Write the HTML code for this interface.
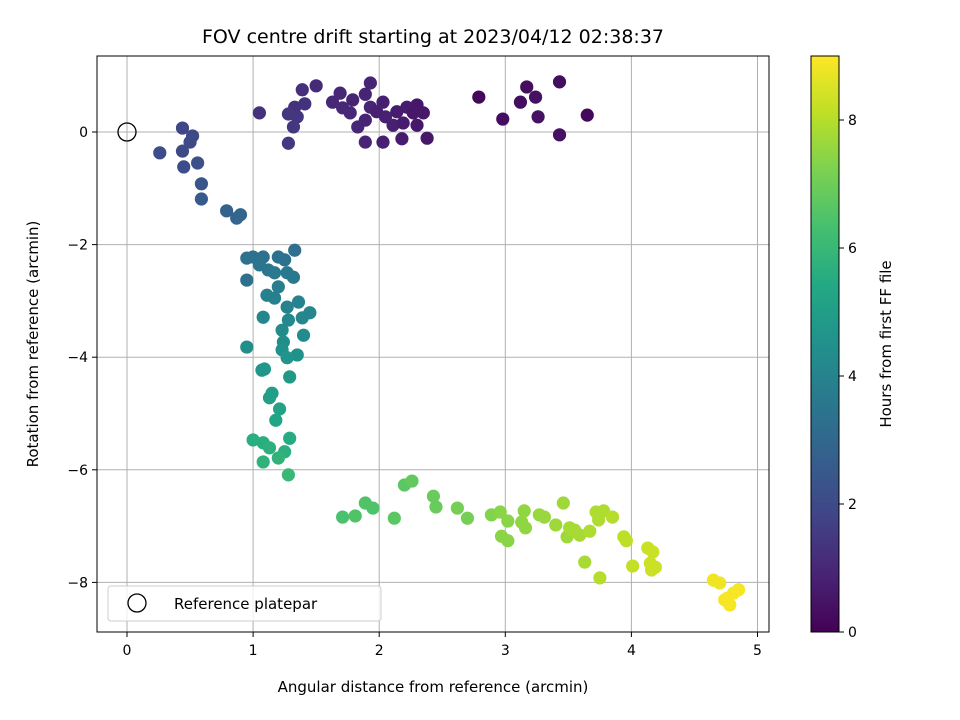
<!DOCTYPE html>
<html><head><meta charset="utf-8"><style>
body{margin:0;background:#fff;}
svg{display:block;font-family:"DejaVu Sans","Liberation Sans",sans-serif;}
</style></head><body>
<svg id="chart" width="960" height="720" viewBox="0 0 960 720" xmlns="http://www.w3.org/2000/svg">
<text x="433" y="43" font-size="19" text-anchor="middle">FOV centre drift starting at 2023/04/12 02:38:37</text>
<g id="grid"></g>
<g id="points"></g>
<rect x="97" y="56" width="672" height="576" fill="none" stroke="#000" stroke-width="1"/>
<g id="xticks"></g>
<g id="yticks"></g>
<text x="433" y="692" font-size="15" text-anchor="middle">Angular distance from reference (arcmin)</text>
<text transform="translate(38,344) rotate(-90)" font-size="15" text-anchor="middle">Rotation from reference (arcmin)</text>
<g>
<rect x="108" y="586" width="273" height="35" rx="3" fill="#fff" fill-opacity="0.8" stroke="#ccc"/>
<circle cx="137" cy="603" r="9" fill="none" stroke="#000" stroke-width="1.3"/>
<text x="174" y="609" font-size="15">Reference platepar</text>
</g>
<defs><linearGradient id="vir" x1="0" y1="1" x2="0" y2="0">
<stop offset="0" stop-color="#440154"/><stop offset="0.1" stop-color="#482475"/><stop offset="0.2" stop-color="#414487"/><stop offset="0.3" stop-color="#355f8d"/><stop offset="0.4" stop-color="#2a788e"/><stop offset="0.5" stop-color="#21918c"/><stop offset="0.6" stop-color="#22a884"/><stop offset="0.7" stop-color="#44bf70"/><stop offset="0.8" stop-color="#7ad151"/><stop offset="0.9" stop-color="#bddf26"/><stop offset="1" stop-color="#fde725"/>
</linearGradient></defs>
<rect x="811" y="56" width="28" height="576" fill="url(#vir)" stroke="#000" stroke-width="1"/>
<g id="cticks"></g>
<text transform="translate(891,344) rotate(-90)" font-size="15" text-anchor="middle">Hours from first FF file</text>
</svg>
<script>
const xs=[2.79,2.98,3.12,3.17,3.24,3.26,3.43,3.43,3.65,
1.05,1.39,1.50,1.33,1.41,1.28,1.35,1.32,1.28,1.63,1.69,1.71,1.77,1.79,1.93,1.89,1.93,1.83,1.89,1.89,2.03,2.05,2.11,2.03,2.18,2.14,2.22,2.30,2.27,2.35,2.30,2.38,1.98,2.19,
0.26,0.44,0.44,0.45,0.50,0.52,0.56,0.59,0.59,0.79,0.87,0.90,0.95,
1.33,0.95,1.00,1.08,1.20,1.25,1.05,1.12,1.17,1.27,1.32,1.20,1.11,1.17,1.36,1.27,1.45,1.39,1.08,1.28,1.23,1.40,1.24,0.95,1.23,1.35,1.27,1.07,1.09,1.29,1.15,1.13,1.21,1.18,1.00,1.29,1.08,1.13,1.25,1.20,1.08,1.28,
1.71,1.81,1.89,1.95,2.12,2.20,2.26,2.43,2.45,2.62,2.70,2.89,2.96,2.97,3.02,3.02,3.13,3.15,3.16,3.27,3.31,3.40,3.46,3.49,3.51,3.55,3.59,3.63,3.67,3.74,3.72,3.78,3.85,3.75,3.94,3.96,4.01,4.13,4.17,4.15,4.16,4.19,
4.65,4.70,4.76,4.78,4.74,4.81,4.85];
const ys=[0.62,0.23,0.53,0.80,0.62,0.27,0.89,-0.05,0.30,
0.34,0.75,0.82,0.44,0.50,0.32,0.27,0.09,-0.20,0.53,0.69,0.43,0.34,0.57,0.87,0.67,0.44,0.09,0.21,-0.18,0.53,0.27,0.12,-0.18,-0.12,0.36,0.44,0.48,0.34,0.34,0.12,-0.11,0.36,0.16,
-0.37,0.07,-0.34,-0.62,-0.18,-0.07,-0.55,-0.92,-1.19,-1.40,-1.53,-1.47,-2.63,
-2.10,-2.24,-2.22,-2.22,-2.22,-2.27,-2.36,-2.45,-2.50,-2.50,-2.58,-2.75,-2.90,-2.95,-3.02,-3.11,-3.21,-3.30,-3.29,-3.34,-3.52,-3.61,-3.73,-3.82,-3.87,-3.96,-4.01,-4.23,-4.21,-4.35,-4.64,-4.72,-4.92,-5.12,-5.47,-5.44,-5.52,-5.61,-5.68,-5.79,-5.86,-6.09,
-6.84,-6.82,-6.59,-6.68,-6.86,-6.27,-6.20,-6.47,-6.66,-6.68,-6.86,-6.80,-6.75,-7.18,-7.26,-6.91,-6.93,-6.73,-7.03,-6.80,-6.84,-6.98,-6.59,-7.19,-7.03,-7.07,-7.16,-7.64,-7.09,-6.89,-6.75,-6.73,-6.84,-7.92,-7.19,-7.26,-7.71,-7.39,-7.46,-7.66,-7.78,-7.73,
-7.96,-8.01,-8.28,-8.40,-8.31,-8.19,-8.13];
const hours=[0.2,0.3,0.3,0.3,0.4,0.4,0.3,0.4,0.2,
1.3,1.2,1.1,1.3,1.3,1.4,1.4,1.4,1.5,1.0,1.0,1.0,1.0,0.9,0.9,0.9,0.9,1.0,0.9,0.9,0.8,0.8,0.8,0.8,0.7,0.7,0.7,0.6,0.6,0.6,0.6,0.6,0.8,0.7,
2.1,1.9,2.0,2.1,2.0,2.0,2.2,2.4,2.5,2.8,2.9,2.9,3.3,
3.3,3.4,3.4,3.4,3.4,3.4,3.5,3.5,3.6,3.6,3.6,3.8,3.9,3.9,4.0,4.0,4.1,4.1,4.1,4.2,4.3,4.3,4.4,4.4,4.5,4.5,4.6,4.7,4.7,4.8,5.0,5.1,5.2,5.3,5.6,5.5,5.6,5.7,5.7,5.8,5.8,6.0,
6.4,6.5,6.5,6.5,6.7,6.7,6.8,6.9,6.9,7.1,7.1,7.3,7.4,7.4,7.4,7.4,7.5,7.5,7.5,7.6,7.6,7.7,7.7,7.7,7.8,7.8,7.8,7.8,7.9,7.9,7.9,7.9,8.0,8.0,8.1,8.1,8.2,8.3,8.3,8.3,8.3,8.3,
8.8,8.8,8.9,8.9,8.9,8.9,8.9];
const xTicks=[0,1,2,3,4,5];
const yTicks=[0,-2,-4,-6,-8];
const cTicks=[0,2,4,6,8];
const NS="http://www.w3.org/2000/svg";
const X=v=>127+v*126.1, Y=v=>132-v*56.3, C=v=>632-v*(576/9);
const vir=[[68,1,84],[72,36,117],[65,68,135],[53,95,141],[42,120,142],[33,145,140],[34,168,132],[68,191,112],[122,209,81],[189,223,38],[253,231,37]];
function col(h){let t=Math.max(0,Math.min(1,h/9))*10;if(t>=10)t=9.999;
 const i=Math.floor(t),f=t-i,a=vir[i],b=vir[i+1];
 return `rgb(${a.map((v,k)=>Math.round(v+(b[k]-v)*f)).join(',')})`;}
function mk(tag,at,parent){const e=document.createElementNS(NS,tag);for(const k in at)e.setAttribute(k,at[k]);parent.appendChild(e);return e;}
const grid=document.getElementById('grid'),xt=document.getElementById('xticks'),yt=document.getElementById('yticks'),ct=document.getElementById('cticks'),pts=document.getElementById('points');
xTicks.forEach(v=>{
 const g=mk('line',{x1:X(v),x2:X(v),y1:56,y2:632,stroke:'#b0b0b0','stroke-width':1},grid);
 
 
 mk('line',{x1:X(v),x2:X(v),y1:632,y2:637,stroke:'#000'},xt);
 const t=mk('text',{x:X(v),y:655,'font-size':14,'text-anchor':'middle'},xt);t.textContent=v;
 
 
});
yTicks.forEach(v=>{
 const g=mk('line',{x1:97,x2:769,y1:Y(v),y2:Y(v),stroke:'#b0b0b0','stroke-width':1},grid);
 
 
 mk('line',{x1:92,x2:97,y1:Y(v),y2:Y(v),stroke:'#000'},yt);
 const t=mk('text',{x:88,y:Y(v)+5,'font-size':14,'text-anchor':'end'},yt);t.textContent=v===0?'0':'\u2212'+Math.abs(v);
 
 
});
cTicks.forEach(v=>{
 mk('line',{x1:839,x2:844,y1:C(v),y2:C(v),stroke:'#000'},ct);
 const t=mk('text',{x:848,y:C(v)+5,'font-size':14},ct);t.textContent=v;
 
 
});
xs.forEach((x,i)=>{
 const c=mk('circle',{cx:X(x),cy:Y(ys[i]),r:6.6,fill:col(hours[i])},pts);
 
 
});
const ref=mk('circle',{cx:X(0),cy:Y(0),r:9,fill:'none',stroke:'#000','stroke-width':1.3},pts);


</script>
</body></html>
